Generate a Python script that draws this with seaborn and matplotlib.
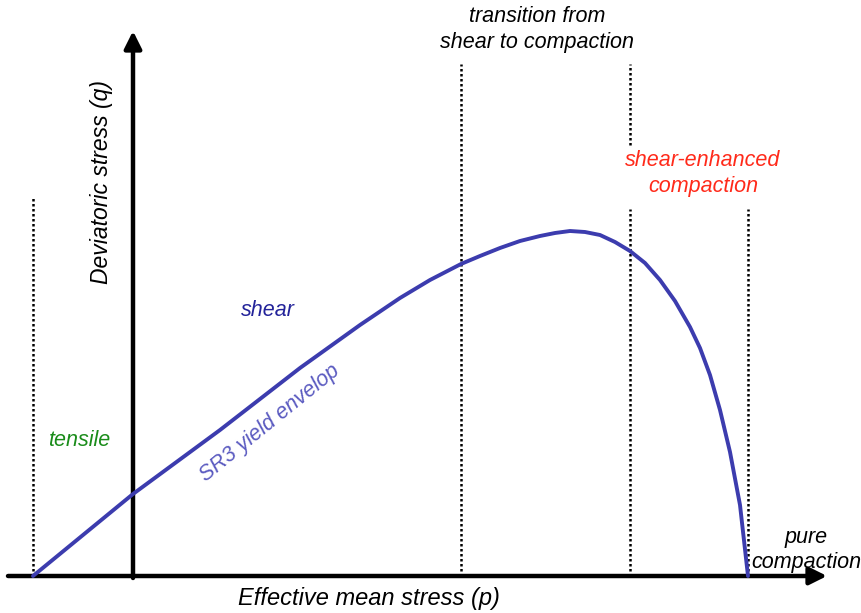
import numpy as np
import pandas as pd
import matplotlib
matplotlib.use("Agg")
import matplotlib.pyplot as plt
import seaborn as sns

# SR3 yield envelope (p = effective mean stress, q = deviatoric stress)
curve_p = [-1.00, 0.00, 0.87, 1.67, 2.27, 2.67, 2.97, 3.28, 3.47, 3.67, 3.87,
           4.07, 4.22, 4.37, 4.52, 4.67, 4.82, 4.97, 5.12, 5.27, 5.42, 5.57,
           5.67, 5.77, 5.87, 5.97, 6.07, 6.15]
curve_q = [0.00, 0.82, 1.46, 2.08, 2.51, 2.78, 2.96, 3.12, 3.20, 3.28, 3.35,
           3.40, 3.43, 3.45, 3.44, 3.41, 3.34, 3.25, 3.13, 2.96, 2.75, 2.49,
           2.28, 2.01, 1.66, 1.24, 0.71, 0.00]

# dotted region boundaries: position, top, and an extra upper segment
bound_p = [-1.00, 3.28, 4.97, 6.15]
bound_top = [3.80, 5.12, 3.67, 3.67]
upper_p = [4.97]
upper_lo = [4.31]
upper_hi = [5.12]

# axis extents
x_axis = (-1.25, 6.94)
y_axis = (-0.02, 5.45)

sns.set_style("white")
plt.rcParams["font.family"] = ["Liberation Sans", "DejaVu Sans"]

fig = plt.figure(figsize=(8.62, 6.13), dpi=100)
ax = fig.add_axes([0, 0, 1, 1])

# region boundaries
for p, top in zip(bound_p, bound_top):
    ax.plot([p, p], [0, top], color="black", lw=1.8, ls=(0, (1, 1)), zorder=1)
for p, lo, hi in zip(upper_p, upper_lo, upper_hi):
    ax.plot([p, p], [lo, hi], color="black", lw=1.8, ls=(0, (1, 1)), zorder=1)

# axes with arrow heads
arrow = dict(arrowstyle="-|>", lw=3.2, color="black", mutation_scale=26,
             shrinkA=0, shrinkB=0)
ax.annotate("", xy=(x_axis[1], 0), xytext=(x_axis[0], 0), arrowprops=arrow, zorder=3)
ax.annotate("", xy=(0, y_axis[1]), xytext=(0, y_axis[0]), arrowprops=arrow, zorder=3)

# yield envelope
df = pd.DataFrame({"p": curve_p, "q": curve_q})
sns.lineplot(data=df, x="p", y="q", sort=False, color="#3c3cae", lw=2.8,
             ax=ax, zorder=4)
ax.set_xlim(-1.33, 7.29)
ax.set_ylim(-0.37, 5.76)
ax.axis("off")

txt = dict(style="italic", ha="center", va="center")
ax.text(-0.31, 3.94, "Deviatoric stress (q)", rotation=90, fontsize=16.5, color="black", **txt)
ax.text(2.36, -0.22, "Effective mean stress (p)", fontsize=17, color="black", **txt)
ax.text(4.04, 5.465, "transition from\nshear to compaction", fontsize=15.5,
        color="black", linespacing=1.3, **txt)
ax.text(5.70, 4.025, "shear-enhanced\ncompaction", fontsize=15.5,
        color="#ff2a1a", linespacing=1.3, **txt)
ax.text(6.73, 0.26, "pure\ncompaction", fontsize=15.5, color="black",
        linespacing=1.3, **txt)
ax.text(1.35, 2.66, "shear", fontsize=15.5, color="#23239a", **txt)
ax.text(1.37, 1.53, "SR3 yield envelop", fontsize=15.5, color="#5a5ac0",
        rotation=39, rotation_mode="anchor", **txt)
ax.text(-0.54, 1.35, "tensile", fontsize=15.5, color="#1a8c1a", **txt)

plt.savefig("out.png", dpi=100)
